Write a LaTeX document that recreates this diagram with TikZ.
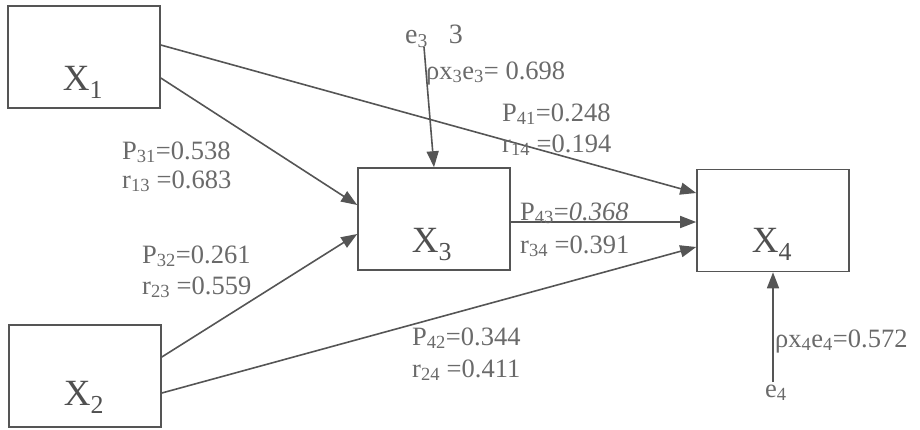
\documentclass[tikz,border=0pt]{standalone}
\usepackage{fontspec}
\setmainfont{Liberation Serif}
\usetikzlibrary{arrows.meta,calc}
\definecolor{linegray}{HTML}{555555}
\definecolor{textgray}{HTML}{6A6A6A}
\definecolor{xgray}{HTML}{505050}
\begin{document}
\begin{tikzpicture}[x=1pt,y=-1pt,
  box/.style={draw=linegray,line width=1.6pt,minimum width=152pt,minimum height=102pt,inner sep=0pt},
  xlab/.style={anchor=base,text=xgray,font=\fontsize{37}{40}\selectfont,inner sep=0pt},
  lab/.style={anchor=base west,text=textgray,font=\fontsize{26.5}{30}\selectfont,inner sep=0pt},
  conn/.style={draw=linegray,line width=1.6pt,-{Triangle[length=16pt,width=12pt]}}]
\useasboundingbox (0,0) rectangle (920,429);
% boxes
\node[box] (X1) at (84,57) {};
\node[box] (X2) at (85,376) {};
\node[box] (X3) at (434,219) {};
\node[box] (X4) at (773,220.5) {};
% box labels
\node[xlab] (tX1) at (83,90) {X\textsubscript{1}};
\node[xlab] (tX2) at (84,405) {X\textsubscript{2}};
\node[xlab] (tX3) at (432,252) {X\textsubscript{3}};
\node[xlab] (tX4) at (772,252) {X\textsubscript{4}};
% error terms
\coordinate (e3) at (424,47);
\coordinate (e4) at (773,382);
% connectors
\draw[conn] ([yshift=12pt]X1.east) -- ([yshift=27.5pt]X4.west);
\draw[conn] ([yshift=-21pt]X1.east) -- ([yshift=14pt]X3.west);
\draw[conn] ([yshift=19pt]X2.east) -- ([yshift=-15pt]X3.west);
\draw[conn] ([yshift=-17pt]X2.east) -- ([yshift=-26.5pt]X4.west);
\draw[conn] ([yshift=-3pt]X3.east) -- ([yshift=-1.5pt]X4.west);
\draw[conn] (e3) -- (X3.north);
\draw[conn] (e4) -- (X4.south);
% labels
\node[lab,font=\fontsize{28}{30}\selectfont] (le3) at (405,43) {e\textsubscript{3}\hspace{21pt}3};
\node[lab] (lpe3) at (426,79) {ρx\textsubscript{3}e\textsubscript{3}= 0.698};
\node[lab] (lP41) at (502,121) {P\textsubscript{41}=0.248};
\node[lab] (lr14) at (502,152) {r\textsubscript{14} =0.194};
\node[lab] (lP31) at (122,159) {P\textsubscript{31}=0.538};
\node[lab] (lr13) at (122,188) {r\textsubscript{13} =0.683};
\node[lab] (lP43) at (520,220) {P\textsubscript{43}=\textit{0.368}};
\node[lab] (lr34) at (520,253) {r\textsubscript{34} =0.391};
\node[lab] (lP32) at (142,263) {P\textsubscript{32}=0.261};
\node[lab] (lr23) at (142,294) {r\textsubscript{23} =0.559};
\node[lab] (lP42) at (412,345) {P\textsubscript{42}=0.344};
\node[lab] (lr24) at (412,377) {r\textsubscript{24} =0.411};
\node[lab] (lpe4) at (775,347) {ρx\textsubscript{4}e\textsubscript{4}=0.572};
\node[lab] (le4) at (765,397) {e\textsubscript{4}};
\end{tikzpicture}
\end{document}
